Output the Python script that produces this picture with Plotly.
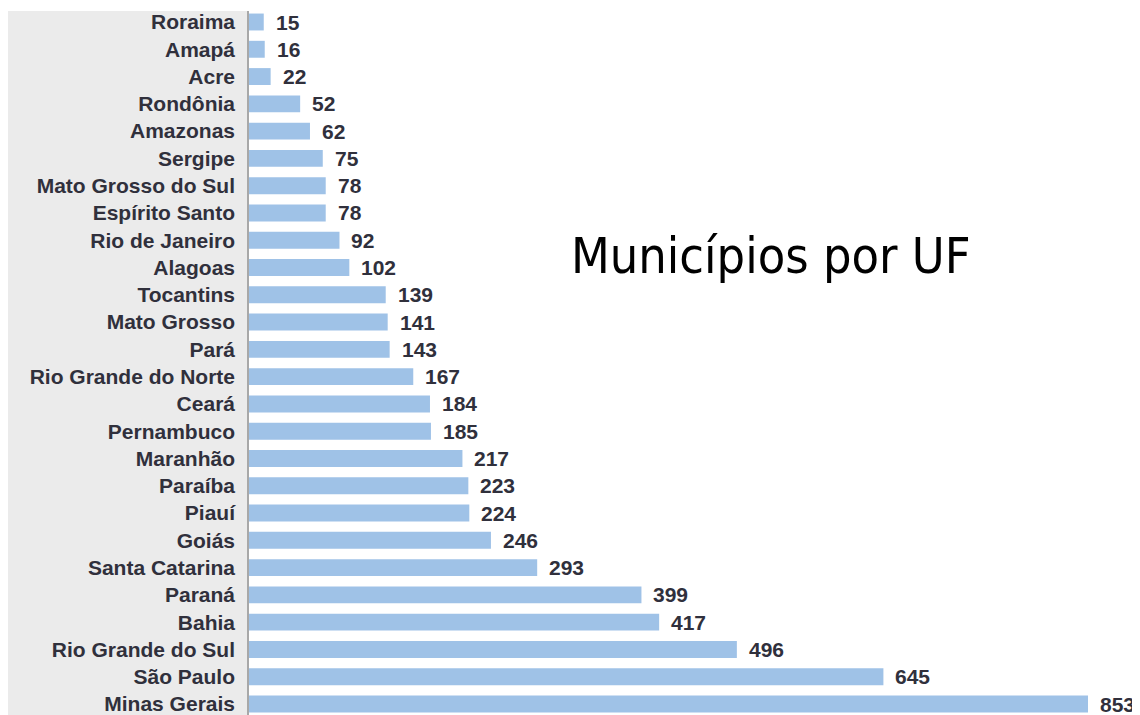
import plotly.graph_objects as go

states = ["Roraima", "Amapá", "Acre", "Rondônia", "Amazonas", "Sergipe",
          "Mato Grosso do Sul", "Espírito Santo", "Rio de Janeiro", "Alagoas",
          "Tocantins", "Mato Grosso", "Pará", "Rio Grande do Norte", "Ceará",
          "Pernambuco", "Maranhão", "Paraíba", "Piauí", "Goiás",
          "Santa Catarina", "Paraná", "Bahia", "Rio Grande do Sul",
          "São Paulo", "Minas Gerais"]
municipios = [15, 16, 22, 52, 62, 75, 78, 78, 92, 102, 139, 141, 143, 167, 184,
              185, 217, 223, 224, 246, 293, 399, 417, 496, 645, 853]
title_text = "Municípios por UF"

# page body has an 8px margin: work in figure coordinates = screen - 8
OFF = 8
W, H = 1140 - OFF, 715 - OFF
L = 249 - OFF
bar_color = "#9fc2e7"
text_color = "#30303c"
label_font = dict(family="Liberation Sans, Arial, sans-serif", size=21,
                  color=text_color, weight="bold")

fig = go.Figure()
fig.add_trace(go.Bar(
    x=municipios, y=states, orientation="h",
    marker=dict(color=bar_color, line=dict(width=0)),
    width=0.62, hoverinfo="skip",
))

for s, v in zip(states, municipios):
    fig.add_annotation(x=v, y=s, text=str(v), showarrow=False,
                       xanchor="left", yanchor="middle", xshift=10,
                       font=label_font)

fig.add_annotation(x=(771 - 249) / (W - L), y=1 - (256 - OFF) / H,
                   xref="paper", yref="paper",
                   text=title_text, showarrow=False,
                   xanchor="center", yanchor="middle",
                   font=dict(family="DejaVu Sans Condensed, Tahoma, DejaVu Sans, sans-serif",
                             size=50, color="#000000"))

plot_w = W - L
# gray label panel
fig.add_shape(type="rect", xref="paper", yref="paper",
              x0=(8 - 249) / plot_w, x1=(247 - 249) / plot_w,
              y0=0, y1=1 - (11 - OFF) / H, fillcolor="#ebebeb",
              line=dict(width=0), layer="below")
fig.add_shape(type="line", xref="paper", yref="paper",
              x0=(248 - 249) / plot_w, x1=(248 - 249) / plot_w,
              y0=0, y1=1 - (11 - OFF) / H, line=dict(color="#a8a8a8", width=2),
              layer="below")

step = (704 - 22) / 25
r0 = -(22 - OFF) / step
r1 = r0 + H / step

fig.update_layout(
    width=W, height=H,
    margin=dict(l=L, r=0, t=0, b=0, autoexpand=False),
    plot_bgcolor="white", paper_bgcolor="white",
    showlegend=False,
    xaxis=dict(range=[0, plot_w / (839 / 853)], visible=False, showgrid=False,
               automargin=False),
    yaxis=dict(categoryorder="array", categoryarray=states,
               range=[r1, r0], showgrid=False, zeroline=False,
               showline=False, ticks="", ticklabelstandoff=13,
               tickfont=label_font, automargin=False),
)

fig.write_html("out.html")
